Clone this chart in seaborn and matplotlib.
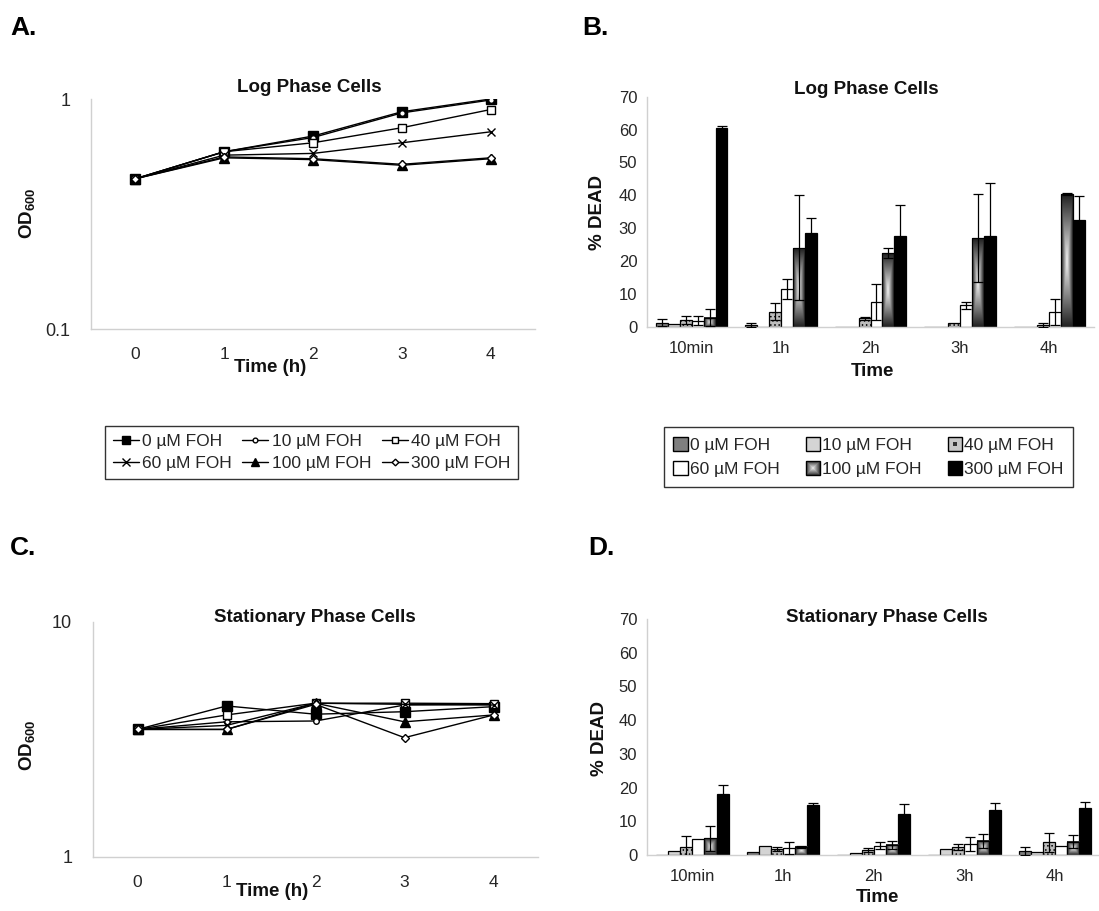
import numpy as np
import pandas as pd
import matplotlib
matplotlib.use("Agg")
import matplotlib.pyplot as plt
import seaborn as sns
from matplotlib.patches import Rectangle
from matplotlib.lines import Line2D
from matplotlib.legend_handler import HandlerBase

# ---------------- data ----------------
conc_labels = ["0 µM FOH", "10 µM FOH", "40 µM FOH", "60 µM FOH", "100 µM FOH", "300 µM FOH"]
hours = [0, 1, 2, 3, 4]
hour_labels = ["0", "1", "2", "3", "4"]
time_labels = ["10min", "1h", "2h", "3h", "4h"]

# A: log phase OD600
log_od_0 = [0.45, 0.59, 0.69, 0.88, 1.00]
log_od_10 = [0.45, 0.59, 0.68, 0.87, 0.99]
log_od_40 = [0.45, 0.59, 0.645, 0.75, 0.90]
log_od_60 = [0.45, 0.57, 0.58, 0.645, 0.72]
log_od_100 = [0.45, 0.555, 0.545, 0.515, 0.55]
log_od_300 = [0.45, 0.56, 0.55, 0.52, 0.555]

# C: stationary phase OD600
stat_od_0 = [3.48, 4.38, 4.04, 4.14, 4.35]
stat_od_10 = [3.48, 3.75, 3.78, 4.42, 4.45]
stat_od_40 = [3.48, 4.01, 4.50, 4.50, 4.48]
stat_od_60 = [3.48, 3.62, 4.50, 4.45, 4.42]
stat_od_100 = [3.48, 3.48, 4.50, 3.75, 4.01]
stat_od_300 = [3.48, 3.48, 4.45, 3.21, 4.01]

# B: log phase % dead and error
log_dead_0 = [1.2, 0.5, 0.0, 0.0, 0.0]
log_dead_10 = [0.7, 0.0, 0.0, 0.0, 0.0]
log_dead_40 = [2.0, 4.5, 2.5, 1.0, 0.5]
log_dead_60 = [1.8, 11.5, 7.5, 6.5, 4.5]
log_dead_100 = [2.8, 24.0, 22.5, 27.0, 40.3]
log_dead_300 = [60.5, 28.5, 27.5, 27.5, 32.5]
log_err_0 = [1.0, 0.5, 0.0, 0.0, 0.0]
log_err_10 = [0.0, 0.0, 0.0, 0.0, 0.0]
log_err_40 = [1.2, 2.6, 0.5, 0.0, 0.5]
log_err_60 = [1.4, 3.0, 5.5, 1.0, 4.0]
log_err_100 = [2.5, 16.0, 1.5, 13.3, 0.3]
log_err_300 = [0.5, 4.5, 9.5, 16.3, 7.3]

# D: stationary phase % dead and error
stat_dead_0 = [0.0, 1.0, 0.0, 0.0, 1.2]
stat_dead_10 = [1.2, 2.8, 0.7, 1.8, 0.8]
stat_dead_40 = [2.5, 1.8, 1.5, 2.4, 3.8]
stat_dead_60 = [4.6, 2.0, 2.8, 3.2, 2.7]
stat_dead_100 = [5.0, 2.4, 3.0, 4.2, 4.0]
stat_dead_300 = [18.0, 14.8, 12.2, 13.3, 14.0]
stat_err_0 = [0.0, 0.0, 0.0, 0.0, 1.3]
stat_err_10 = [0.0, 0.0, 0.0, 0.0, 0.0]
stat_err_40 = [3.0, 0.5, 0.5, 0.9, 2.8]
stat_err_60 = [0.0, 1.8, 1.0, 2.0, 0.0]
stat_err_100 = [3.7, 0.4, 1.2, 2.0, 1.9]
stat_err_300 = [2.8, 0.5, 2.9, 2.1, 1.8]

# ---------------- style ----------------
sns.set_style("white")
plt.rcParams["font.family"] = ["Liberation Sans", "DejaVu Sans"]
plt.rcParams["mathtext.fontset"] = "custom"
plt.rcParams["mathtext.rm"] = "Liberation Sans"
plt.rcParams["mathtext.bf"] = "Liberation Sans:bold"
plt.rcParams["hatch.linewidth"] = 0.6

W, H = 1099, 911
fig = plt.figure(figsize=(W / 100, H / 100), dpi=100)
fig.patch.set_facecolor("white")

AXIS_GRAY = "#d0d0d0"
TICK_TXT = "#262626"

marker_styles = [
    dict(marker="s", ms=7.5, mfc="black"),
    dict(marker="o", ms=4, mfc="white"),
    dict(marker="s", ms=5.5, mfc="white"),
    dict(marker="x", ms=6, mfc="black"),
    dict(marker="^", ms=7.5, mfc="black"),
    dict(marker="D", ms=4, mfc="white"),
]
bar_colors = ["#7f7f7f", "#d4d4d4", "#bdbdbd", "#ffffff", "#e0e0e0", "#000000"]


def fx(px):
    return px / W


def fy(py):
    return 1 - py / H


def style_axis(ax):
    for s in ["top", "right"]:
        ax.spines[s].set_visible(False)
    for s in ["left", "bottom"]:
        ax.spines[s].set_color(AXIS_GRAY)
        ax.spines[s].set_linewidth(1.0)
    ax.set_xlim(-0.5, 4.5)
    ax.set_xticks(np.arange(-0.5, 5.0, 1.0), minor=True)
    ax.tick_params(axis="x", which="minor", length=5, color=AXIS_GRAY, direction="out")
    ax.tick_params(axis="x", which="major", length=0)
    ax.tick_params(axis="y", which="major", length=4, color=AXIS_GRAY, direction="out",
                   labelcolor=TICK_TXT)
    ax.tick_params(axis="y", which="minor", length=0)
    ax.set_xlabel("")
    ax.set_ylabel("")


def line_panel(ax, series, ylim, ylabels, label_drop, tick_pad):
    for vals, st in zip(series, marker_styles):
        sns.lineplot(x=hours, y=vals, ax=ax, color="black", lw=1.0,
                     marker=st["marker"], markersize=st["ms"],
                     markerfacecolor=st["mfc"], markeredgecolor="black",
                     markeredgewidth=1.0, legend=False)
    ax.set_yscale("log")
    ax.set_ylim(*ylim)
    style_axis(ax)
    ax.set_yticks(ylim)
    ax.set_yticklabels(ylabels, fontsize=13)
    ax.yaxis.set_minor_locator(matplotlib.ticker.NullLocator())
    ax.tick_params(axis="y", pad=tick_pad)
    ax.set_xticks(hours)
    ax.set_xticklabels(hour_labels, fontsize=12.5, color=TICK_TXT)
    ax.tick_params(axis="x", which="major", pad=label_drop)


class GradHandler(HandlerBase):
    def create_artists(self, legend, orig_handle, xdescent, ydescent, width, height, fontsize, trans):
        arts = []
        n = 7
        for k in range(n):
            f = k / n
            dx = width * f / 2
            dy = height * f / 2
            g = 0.25 + 0.72 * f
            arts.append(Rectangle((-xdescent + dx, -ydescent + dy), width - 2 * dx, height - 2 * dy,
                                  facecolor=(g, g, g), edgecolor="none", transform=trans))
        arts.append(Rectangle((-xdescent, -ydescent), width, height, facecolor="none",
                              edgecolor="black", lw=1.0, transform=trans))
        return arts


class DotHandler(HandlerBase):
    def create_artists(self, legend, orig_handle, xdescent, ydescent, width, height, fontsize, trans):
        r1 = Rectangle((-xdescent, -ydescent), width, height, facecolor="#c8c8c8",
                       edgecolor="black", lw=1.0, transform=trans)
        s = width * 0.28
        r2 = Rectangle((-xdescent + width / 2 - s / 2, -ydescent + height / 2 - s / 2), s, s,
                       facecolor="#333333", edgecolor="none", transform=trans)
        return [r1, r2]


class SquareHandler(HandlerBase):
    def create_artists(self, legend, orig_handle, xdescent, ydescent, width, height, fontsize, trans):
        r = Rectangle((-xdescent, -ydescent), width, height, facecolor=orig_handle.get_facecolor(),
                      edgecolor="black", lw=1.0, transform=trans)
        return [r]


def bar_panel(ax, vals_list, errs_list):
    df = pd.DataFrame({
        "Time": [t for _ in conc_labels for t in time_labels],
        "Conc": [c for c in conc_labels for _ in time_labels],
        "Dead": np.concatenate(vals_list),
    })
    sns.barplot(data=df, x="Time", y="Dead", hue="Conc", order=time_labels,
                hue_order=conc_labels, palette=bar_colors, saturation=1,
                edgecolor="black", linewidth=0.9, errorbar=None, width=0.8,
                legend=False, ax=ax)
    bar_conts = list(ax.containers)
    for k, cont in enumerate(bar_conts):
        xs, ys, es = [], [], []
        for j, bar in enumerate(cont.patches):
            x0, w, h = bar.get_x(), bar.get_width(), bar.get_height()
            if k == 2:
                bar.set_hatch("....")
            if k == 4 and h > 0:
                bar.set_facecolor("none")
                bar.set_zorder(2)
                u = np.linspace(-1, 1, 40)
                v = np.linspace(-1, 1, 200)
                U, V = np.meshgrid(u, v)
                grad = np.maximum(np.abs(U), np.abs(V))
                ax.imshow(grad, extent=(x0, x0 + w, 0, h), cmap="gray_r", vmin=-0.05,
                          vmax=1.15, aspect="auto", interpolation="bilinear", zorder=1.5)
            if errs_list[k][j] > 0:
                xs.append(x0 + w / 2)
                ys.append(vals_list[k][j])
                es.append(errs_list[k][j])
        if xs:
            ax.errorbar(xs, ys, yerr=es, fmt="none", ecolor="black", elinewidth=0.9,
                        capsize=3.5, capthick=0.9, zorder=4)
    ax.set_ylim(0, 70)
    style_axis(ax)
    ax.set_yticks(np.arange(0, 71, 10))
    ax.tick_params(axis="y", labelsize=12, pad=3)
    ax.tick_params(axis="x", labelsize=12, labelcolor=TICK_TXT, pad=10)


# ---------------- panel A ----------------
axA = fig.add_axes([fx(91), fy(329), fx(444), 230 / H])
line_panel(axA, [log_od_0, log_od_10, log_od_40, log_od_60, log_od_100, log_od_300],
           (0.1, 1), ["0.1", "1"], 13, 11)

# ---------------- panel C ----------------
axC = fig.add_axes([fx(93), fy(856.7), fx(445), 235 / H])
line_panel(axC, [stat_od_0, stat_od_10, stat_od_40, stat_od_60, stat_od_100, stat_od_300],
           (1, 10), ["1", "10"], 13, 11)

# ---------------- panel B ----------------
axB = fig.add_axes([fx(647), fy(326.7), fx(447), 230 / H])
bar_panel(axB, [log_dead_0, log_dead_10, log_dead_40, log_dead_60, log_dead_100, log_dead_300],
          [log_err_0, log_err_10, log_err_40, log_err_60, log_err_100, log_err_300])

# ---------------- panel D ----------------
axD = fig.add_axes([fx(647), fy(855), fx(453.5), 236 / H])
bar_panel(axD, [stat_dead_0, stat_dead_10, stat_dead_40, stat_dead_60, stat_dead_100, stat_dead_300],
          [stat_err_0, stat_err_10, stat_err_40, stat_err_60, stat_err_100, stat_err_300])

# ---------------- texts ----------------
title_kw = dict(fontsize=13.5, fontweight="bold", ha="center", va="center", color="#111111")
fig.text(fx(309), fy(87), "Log Phase Cells", **title_kw)
fig.text(fx(866), fy(89), "Log Phase Cells", **title_kw)
fig.text(fx(315), fy(617), "Stationary Phase Cells", **title_kw)
fig.text(fx(887), fy(618), "Stationary Phase Cells", **title_kw)

lab_kw = dict(fontsize=13.5, fontweight="bold", ha="center", va="center", color="#111111")
fig.text(fx(27), fy(213), r"$\mathbf{OD_{600}}$", rotation=90, **lab_kw)
fig.text(fx(27), fy(745), r"$\mathbf{OD_{600}}$", rotation=90, **lab_kw)
fig.text(fx(597), fy(213), "% DEAD", rotation=90, **lab_kw)
fig.text(fx(600), fy(738), "% DEAD", rotation=90, **lab_kw)
fig.text(fx(270), fy(367), "Time (h)", **lab_kw)
fig.text(fx(272), fy(891), "Time (h)", **lab_kw)
fig.text(fx(872), fy(372), "Time", **lab_kw)
fig.text(fx(877), fy(898), "Time", **lab_kw)

pan_kw = dict(fontsize=19, fontweight="bold", ha="left", va="baseline", color="black")
fig.text(fx(10), fy(35), "A.", **pan_kw)
fig.text(fx(582), fy(35), "B.", **pan_kw)
fig.text(fx(10), fy(555), "C.", **pan_kw)
fig.text(fx(588), fy(555), "D.", **pan_kw)

# ---------------- legends ----------------
line_handles = [Line2D([0], [0], color="black", lw=1.0, marker=st["marker"],
                       markersize=st["ms"] * 0.85, markerfacecolor=st["mfc"],
                       markeredgecolor="black") for st in marker_styles]
order = [0, 3, 1, 4, 2, 5]
legA = fig.legend([line_handles[i] for i in order], [conc_labels[i] for i in order],
                  loc="center", bbox_to_anchor=(fx(311.5), fy(452.5)),
                  bbox_transform=fig.transFigure, ncol=3, fontsize=12.5,
                  frameon=True, fancybox=False, edgecolor="black", handlelength=1.5,
                  handletextpad=0.2, columnspacing=0.6, borderpad=0.45, labelspacing=0.4)
legA.get_frame().set_linewidth(1.0)

bar_handles = [Rectangle((0, 0), 1, 1, facecolor=c) for c in bar_colors]
handler_map = {bar_handles[0]: SquareHandler(), bar_handles[1]: SquareHandler(),
               bar_handles[2]: DotHandler(), bar_handles[3]: SquareHandler(),
               bar_handles[4]: GradHandler(), bar_handles[5]: SquareHandler()}
legB = fig.legend([bar_handles[i] for i in order], [conc_labels[i] for i in order],
                  loc="center", bbox_to_anchor=(fx(868.5), fy(457)),
                  bbox_transform=fig.transFigure, ncol=3, fontsize=12.5,
                  frameon=True, fancybox=False, edgecolor="black", handlelength=0.85,
                  handleheight=0.85, handletextpad=0.1, columnspacing=1.5,
                  borderpad=0.55, labelspacing=0.5, handler_map=handler_map)
legB.get_frame().set_linewidth(1.0)

fig.savefig("out.png", dpi=100, facecolor="white")
